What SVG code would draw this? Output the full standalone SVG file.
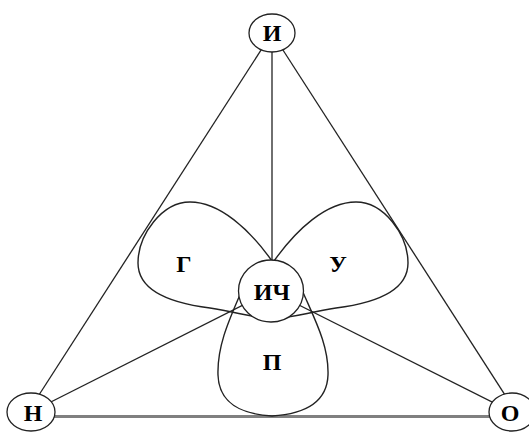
<svg xmlns="http://www.w3.org/2000/svg" width="529" height="432" viewBox="0 0 529 432">
<style>
.ln{stroke:#222;stroke-width:1.3;fill:none}
.petal{stroke:#222;stroke-width:1.4;fill:none}
.nd{fill:#fff;stroke:#222;stroke-width:1.3}
.lb{font-family:"Liberation Serif","Times New Roman",serif;font-weight:bold;font-size:24px;fill:#000;text-anchor:middle}
</style>
<rect width="529" height="432" fill="#fff"/>
<g id="connectors">
<line class="ln" x1="272" y1="33" x2="28" y2="412"/>
<line class="ln" x1="272" y1="33" x2="516" y2="412"/>
<line class="ln" x1="272" y1="33" x2="272" y2="291"/>
<line class="ln" x1="31" y1="412" x2="271" y2="291"/>
<line class="ln" x1="512" y1="412" x2="271" y2="291"/>
<line x1="31" y1="416.5" x2="512" y2="416.5" stroke="#808080" stroke-width="3"/>
</g>
<g id="petals">
<path id="petal-G" class="petal" d="M 272 261 C 250 230 220 202 190 202 C 162 202 138 235 138 263 C 138 290 170 303 210 308 C 240 313 255 318 275 319"/>
<path id="petal-U" class="petal" transform="translate(546,0) scale(-1,1)" d="M 272 261 C 250 230 220 202 190 202 C 162 202 138 235 138 263 C 138 290 170 303 210 308 C 240 313 255 318 275 319"/>
<path id="petal-P" class="petal" d="M 242 290 C 230 318 217 345 218 375 C 219 403 240 414 272 416 C 304 414 327 403 328 375 C 329 345 314 318 302 290"/>
</g>
<g id="node-ICh"><ellipse class="nd" cx="271" cy="291" rx="32.5" ry="31"/><text class="lb" x="272" y="300">ИЧ</text></g>
<g id="node-I"><ellipse class="nd" cx="272" cy="33" rx="23" ry="19"/><text class="lb" x="272" y="41">И</text></g>
<g id="node-N"><ellipse class="nd" cx="31" cy="412" rx="24" ry="19"/><text class="lb" x="33" y="421">Н</text></g>
<g id="node-O"><ellipse class="nd" cx="512" cy="412" rx="23" ry="19"/><text class="lb" x="510" y="421">О</text></g>
<g id="labels">
<text class="lb" x="184" y="272">Г</text>
<text class="lb" x="338" y="272">У</text>
<text class="lb" x="272" y="370">П</text>
</g>
</svg>
